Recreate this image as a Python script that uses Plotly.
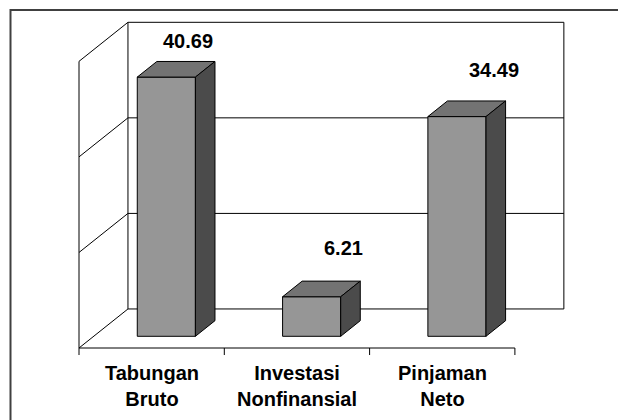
import plotly.graph_objects as go

# ---- data ----
categories = ["Tabungan Bruto", "Investasi Nonfinansial", "Pinjaman Neto"]
tick_labels = ["Tabungan<br>Bruto", "Investasi<br>Nonfinansial", "Pinjaman<br>Neto"]
values = [40.69, 6.21, 34.49]
value_axis_max = 45
value_axis_step = 15
title_text = "(triliun rupiah)"

# ---- oblique 3-D projection settings ----
DEPTH_X = 0.337      # horizontal shift of the full depth (category units)
DEPTH_Y = 6.13       # vertical shift of the full depth (value units)
BAR_HALF = 0.2       # half bar width (category units)
BAR_FRONT = 0.3      # depth fraction of bar front face
BAR_BACK = 0.7       # depth fraction of bar back face

FRONT_COLOR = "#969696"
TOP_COLOR = "#737373"
SIDE_COLOR = "#4b4b4b"
FONT = "Liberation Sans"


def proj(x, v, d):
    return x + d * DEPTH_X, v + d * DEPTH_Y


traces = []


def add_line(pts, color="black", width=1):
    xs, ys = zip(*[proj(*p) for p in pts])
    traces.append(go.Scatter(x=list(xs), y=list(ys), mode="lines",
                             line=dict(color=color, width=width),
                             hoverinfo="skip", showlegend=False))


def add_poly(pts, fill):
    pts = pts + [pts[0]]
    xs, ys = zip(*[proj(*p) for p in pts])
    traces.append(go.Scatter(x=list(xs), y=list(ys), mode="lines",
                             fill="toself", fillcolor=fill,
                             line=dict(color="black", width=1),
                             hoverinfo="skip", showlegend=False))


n = len(categories)
x_lo, x_hi = -0.5, n - 0.5
vmax = value_axis_max

# walls and floor
add_line([(x_lo, 0, 0), (x_lo, vmax, 0), (x_lo, vmax, 1)])
add_line([(x_lo, 0, 0), (x_lo, 0, 1)])
add_line([(x_lo, 0, 1), (x_lo, vmax, 1), (x_hi, vmax, 1), (x_hi, 0, 1), (x_lo, 0, 1)])
add_line([(x_lo, 0, 0), (x_hi, 0, 0)])

# gridlines on side and back walls
g = value_axis_step
while g < vmax:
    add_line([(x_lo, g, 0), (x_lo, g, 1), (x_hi, g, 1)])
    g += value_axis_step

# category tick marks
tick_len = 1.1
for k in range(n + 1):
    add_line([(x_lo + k, 0, 0), (x_lo + k, -tick_len, 0)])

# bars
W = BAR_HALF
d1, d2 = BAR_FRONT, BAR_BACK
for i, v in enumerate(values):
    c = i
    add_poly([(c - W, 0, d1), (c + W, 0, d1), (c + W, v, d1), (c - W, v, d1)], FRONT_COLOR)
    add_poly([(c - W, v, d1), (c + W, v, d1), (c + W, v, d2), (c - W, v, d2)], TOP_COLOR)
    add_poly([(c + W, 0, d1), (c + W, 0, d2), (c + W, v, d2), (c + W, v, d1)], SIDE_COLOR)

fig = go.Figure(traces)

annotations = []
label_xshift = [2, 12, 17]
label_yshift = [20, 33, 31]
for i, v in enumerate(values):
    lx, ly = proj(i, v, d2)
    annotations.append(dict(x=lx, y=ly, xref="x", yref="y", text=f"{v:.2f}",
                            showarrow=False, xanchor="center", yanchor="middle",
                            xshift=label_xshift[i], yshift=label_yshift[i],
                            font=dict(family=FONT, size=20, color="black", weight="bold")))

for i, t in enumerate(tick_labels):
    annotations.append(dict(x=i, y=0, xref="x", yref="y", text=f"<b>{t}</b>",
                            showarrow=False, xanchor="center", yanchor="top",
                            yshift=-12,
                            font=dict(family=FONT, size=20, color="black")))

# heading sits mostly above the visible page edge
annotations.append(dict(x=315 / 618, y=0.9905, xref="paper", yref="paper",
                        text=f"<b>{title_text}</b>", showarrow=False,
                        xanchor="center", yanchor="bottom", yshift=2,
                        font=dict(family="Liberation Serif", size=29, color="black")))

fig.update_layout(
    width=618, height=420,
    margin=dict(l=0, r=0, t=0, b=0),
    paper_bgcolor="white", plot_bgcolor="white",
    xaxis=dict(range=[-1.0437, 3.2096], visible=False, fixedrange=True),
    yaxis=dict(range=[-11.30, 54.63], visible=False, fixedrange=True),
    annotations=annotations,
    shapes=[dict(type="rect", xref="paper", yref="paper",
                 x0=10.5 / 618, x1=1.05, y0=-0.05, y1=1 - 10 / 420,
                 line=dict(color="#404040", width=2))],
)

fig.write_html("out.html")
